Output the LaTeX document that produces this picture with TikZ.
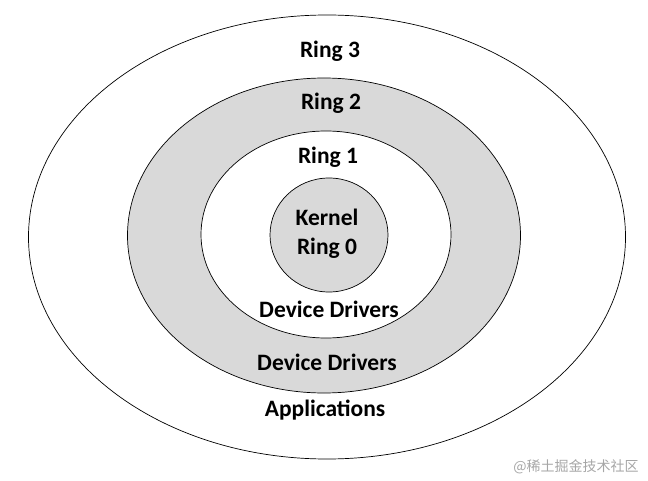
\documentclass[tikz,border=0pt]{standalone}
\usepackage{fontspec}
\setmainfont{Carlito}
\newfontfamily\cjkfont{Noto Sans CJK SC}
\usepackage{tikz}
\usetikzlibrary{shapes.geometric}
\definecolor{ringgray}{RGB}{217,217,217}

\begin{document}
\begin{tikzpicture}[
    x=1pt,
    y=-1pt,
    ringshape/.style={
        ellipse,
        draw,
        line width=0.7pt,
        inner sep=0pt
    },
    ringlabel/.style={
        font=\fontsize{23.5}{29}\selectfont\bfseries,
        align=center,
        inner sep=0pt
    }
]
\useasboundingbox (0,0) rectangle (648,481);

% rings, outside in
\node[ringshape, fill=white, minimum width=597, minimum height=444] (ring3) at (327,237) {};
\node[ringshape, fill=ringgray, minimum width=393, minimum height=315] (ring2) at (324,235.5) {};
\node[ringshape, fill=white, minimum width=250, minimum height=207] (ring1) at (326,234.5) {};
\node[ringshape, fill=ringgray, minimum width=118, minimum height=114] (ring0) at (329,235) {};

% labels
\node[ringlabel] (ring3lbl) at (330,51) {Ring 3};
\node[ringlabel] (ring2lbl) at (331,103) {Ring 2};
\node[ringlabel] (ring1lbl) at (328,157) {Ring 1};
\node[ringlabel] (kernellbl) at (327,234) {Kernel\\Ring 0};
\node[ringlabel] (drivers1lbl) at (329,309) {Device Drivers};
\node[ringlabel] (drivers2lbl) at (327,362) {Device Drivers};
\node[ringlabel] (appslbl) at (325,410) {Applications};

% watermark
\node[font=\cjkfont\fontsize{14}{16}\selectfont, text=black!35, inner sep=0pt] (mark) at (576,467) {@稀土掘金技术社区};
\end{tikzpicture}
\end{document}
